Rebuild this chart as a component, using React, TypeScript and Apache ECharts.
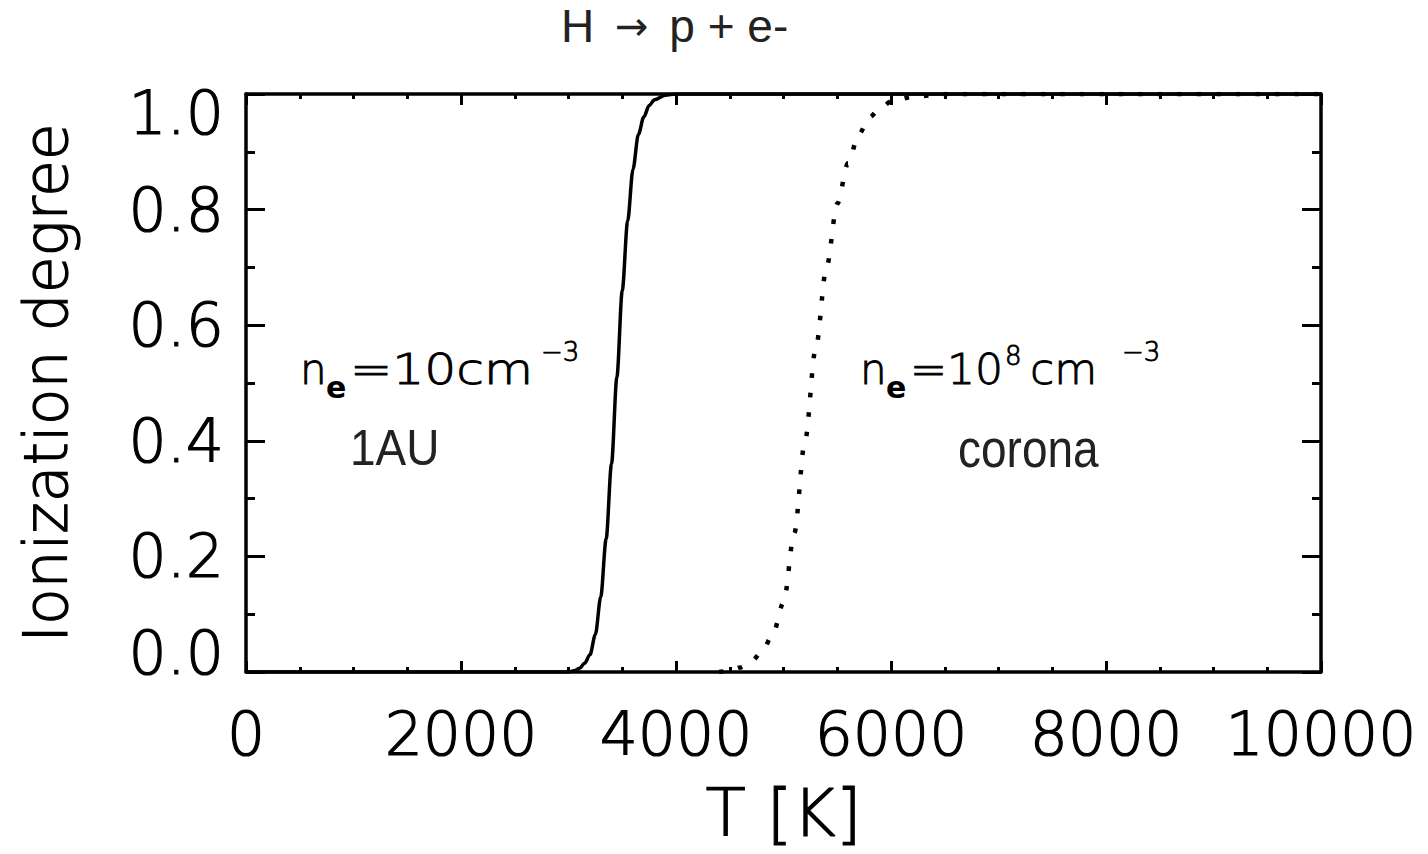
import React, { useEffect, useRef } from "react";
import * as echarts from "echarts";

// ---- data ----
const titleParts = ["H ", "\u2192", " p + e-"];
const xAxisName = "T [K]";
const yAxisName = "Ionization degree";
const xTicks = [0, 2000, 4000, 6000, 8000, 10000];
const yTicks = [0, 0.2, 0.4, 0.6, 0.8, 1.0];

// n_e = 10 cm^-3 (1 AU), solid line
const tempSolid = [0, 1000, 2000, 3000, 3050, 3100, 3150, 3200, 3250, 3300, 3350, 3400, 3450, 3500, 3550, 3600, 3650, 3700, 3750, 3800, 3900, 4000, 6000, 8000, 10000];
const ionSolid = [0, 0, 0, 0, 0.002, 0.006, 0.015, 0.03, 0.065, 0.13, 0.23, 0.36, 0.51, 0.66, 0.78, 0.87, 0.93, 0.96, 0.98, 0.99, 0.998, 1.0, 1.0, 1.0, 1.0];

// n_e = 10^8 cm^-3 (corona), dotted line
const tempDotted = [4400, 4500, 4600, 4700, 4800, 4900, 5000, 5100, 5200, 5300, 5400, 5500, 5600, 5700, 5800, 5900, 6000, 6200, 6500, 8000, 10000];
const ionDotted = [0, 0.002, 0.008, 0.018, 0.035, 0.065, 0.12, 0.24, 0.4, 0.56, 0.7, 0.81, 0.88, 0.93, 0.96, 0.975, 0.987, 0.995, 1.0, 1.0, 1.0];

const FONT = "DejaVu Sans";
const SANS = "Liberation Sans";
const THIN = { fontFamily: FONT, fontWeight: 200, textBorderColor: "#000", textBorderWidth: 1.2 };

function annot(text: string, x: number, baseline: number, fontSize: number, opts: any = {}) {
  const thin = !opts.bold && !opts.family;
  return {
    type: "text",
    x,
    y: baseline - 0.33 * fontSize,
    scaleX: opts.scaleX ?? 1,
    scaleY: opts.scaleY ?? 1,
    originX: 0,
    originY: 0,
    style: {
      text,
      fontSize,
      fontFamily: opts.family ?? FONT,
      fontWeight: opts.bold ? "bold" : thin ? 200 : "normal",
      fill: opts.fill ?? "#000",
      stroke: thin ? "#000" : undefined,
      lineWidth: thin ? 0.9 : 0,
      verticalAlign: "middle",
      align: "left",
    },
    silent: true,
  };
}

export default function App() {
  const ref = useRef<HTMLDivElement>(null);
  useEffect(() => {
    if (!ref.current) return;
    const chart = echarts.init(ref.current, null, { renderer: "svg" });
    const solid = tempSolid.map((t, i) => [t, ionSolid[i]]);
    const dotted = tempDotted.map((t, i) => [t, ionDotted[i]]);
    const axisLineStyle = { color: "#000", width: 3.5 };
    const baseX = {
      type: "value",
      min: xTicks[0],
      max: xTicks[xTicks.length - 1],
      interval: 2000,
      splitLine: { show: false },
      axisLine: { show: true, onZero: false, lineStyle: axisLineStyle },
      axisTick: { show: true, inside: true, length: 11, lineStyle: { color: "#000", width: 3 } },
      minorTick: { show: true, splitNumber: 4, length: 5, lineStyle: { color: "#000", width: 3 } },
    };
    const baseY = {
      type: "value",
      min: yTicks[0],
      max: yTicks[yTicks.length - 1],
      interval: 0.2,
      splitLine: { show: false },
      axisLine: { show: true, onZero: false, lineStyle: axisLineStyle },
      axisTick: { show: true, inside: true, length: 19, lineStyle: { color: "#000", width: 3 } },
      minorTick: { show: true, splitNumber: 2, length: 9, lineStyle: { color: "#000", width: 3 } },
    };
    const labelStyle = { fontSize: 60, color: "#000", ...THIN };
    chart.setOption({
      animation: false,
      backgroundColor: "#fff",
      title: {
        text: "{a|" + titleParts[0] + "}{b|" + titleParts[1] + "}{a|" + titleParts[2] + "}",
        left: 556,
        top: -2,
        textStyle: {
          fontSize: 46,
          fontFamily: SANS,
          fontWeight: "normal",
          color: "#222",
          rich: {
            a: { fontSize: 46, fontFamily: SANS, color: "#222" },
            b: { fontSize: 40, fontFamily: FONT, color: "#222", padding: [0, 8, 0, 8] },
          },
        },
      },
      grid: { left: 246, right: 107, top: 94, bottom: 182, containLabel: false },
      xAxis: [
        {
          ...baseX,
          position: "bottom",
          name: xAxisName,
          nameLocation: "middle",
          nameGap: 108,
          nameTextStyle: { fontSize: 66, color: "#000", ...THIN },
          axisLabel: { ...labelStyle, margin: 32, formatter: (v: number) => String(v) },
        },
        { ...baseX, position: "top", axisLabel: { show: false } },
      ],
      yAxis: [
        {
          ...baseY,
          position: "left",
          name: yAxisName,
          nameLocation: "middle",
          nameGap: 170,
          nameTextStyle: { fontSize: 60, color: "#000", ...THIN },
          axisLabel: {
            ...labelStyle,
            margin: 22,
            formatter: (v: number) => {
              const s = v.toFixed(1);
              if (v >= 1) return "{max|" + s + "}";
              if (v <= 0) return "{min|" + s + "}";
              return "{n|" + s + "}";
            },
            rich: {
              n: { ...labelStyle },
              max: { ...labelStyle, padding: [38, 0, 0, 0] },
              min: { ...labelStyle, padding: [0, 0, 38, 0] },
            },
          },
        },
        { ...baseY, position: "right", axisLabel: { show: false } },
      ],
      series: [
        {
          type: "line",
          data: solid,
          xAxisIndex: 0,
          yAxisIndex: 0,
          showSymbol: false,
          smooth: 0.3,
          smoothMonotone: "x",
          lineStyle: { color: "#000", width: 3.5, type: "solid" },
          z: 3,
        },
        {
          type: "line",
          data: dotted,
          xAxisIndex: 0,
          yAxisIndex: 0,
          showSymbol: false,
          smooth: 0.3,
          smoothMonotone: "x",
          lineStyle: { color: "#000", width: 4.5, type: [4.5, 15] },
          z: 3,
        },
      ],
      graphic: [
        // left annotation: n_e = 10 cm^-3, 1AU
        annot("n", 300, 383, 42),
        annot("e", 326, 397, 30, { bold: true }),
        annot("=10cm", 350, 383, 42, { scaleX: 1.2 }),
        annot("\u22123", 541, 361, 26),
        annot("1AU", 350, 462, 46, { family: SANS, fill: "#222", scaleY: 1.1 }),
        // right annotation: n_e = 10^8 cm^-3, corona
        annot("n", 860, 383, 42),
        annot("e", 886, 397, 30, { bold: true }),
        annot("=10", 910, 383, 42, { scaleX: 1.05 }),
        annot("8", 1005, 365, 26),
        annot("cm", 1030, 383, 42, { scaleX: 1.05 }),
        annot("\u22123", 1122, 361, 26),
        annot("corona", 958, 464, 46, { family: SANS, fill: "#222", scaleY: 1.15 }),
      ],
    });
    return () => chart.dispose();
  }, []);
  return (
    <div
      ref={ref}
      style={{ position: "fixed", left: 0, top: 0, width: 1428, height: 854, background: "#fff" }}
    />
  );
}
